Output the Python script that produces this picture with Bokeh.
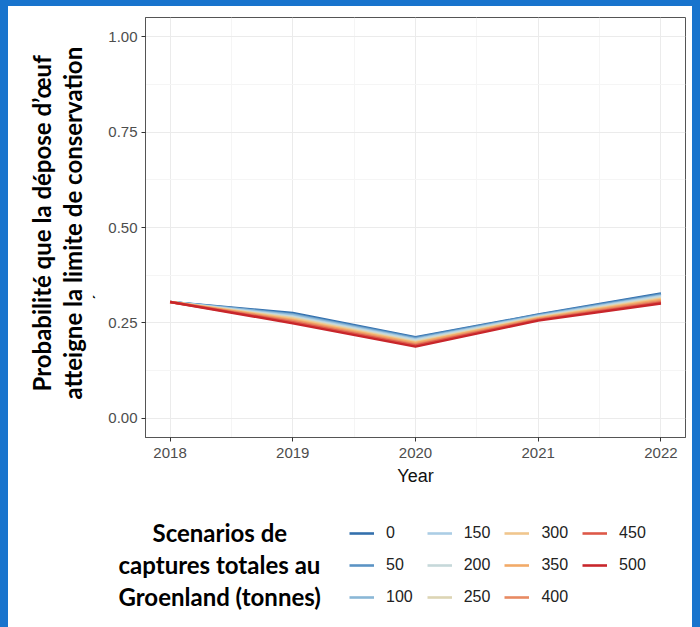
from bokeh.plotting import figure
from bokeh.layouts import column
from bokeh.models import Legend, LegendItem, FixedTicker, Range1d, NumeralTickFormatter, Title
from bokeh.embed import file_html
from bokeh.resources import INLINE

# ---------------- data ----------------
years = [2018, 2019, 2020, 2021, 2022]
scenarios = ["0", "50", "100", "150", "200", "250", "300", "350", "400", "450", "500"]
p_0   = [0.305, 0.276, 0.213, 0.272, 0.327]
p_50  = [0.305, 0.273, 0.211, 0.271, 0.325]
p_100 = [0.305, 0.271, 0.208, 0.269, 0.322]
p_150 = [0.305, 0.268, 0.206, 0.268, 0.320]
p_200 = [0.305, 0.266, 0.204, 0.266, 0.318]
p_250 = [0.305, 0.263, 0.201, 0.265, 0.315]
p_300 = [0.305, 0.261, 0.199, 0.263, 0.313]
p_350 = [0.305, 0.258, 0.197, 0.262, 0.310]
p_400 = [0.305, 0.255, 0.194, 0.260, 0.307]
p_450 = [0.305, 0.252, 0.191, 0.258, 0.304]
p_500 = [0.305, 0.249, 0.188, 0.256, 0.301]
series = [p_0, p_50, p_100, p_150, p_200, p_250, p_300, p_350, p_400, p_450, p_500]
y_ticks = [0.0, 0.25, 0.5, 0.75, 1.0]
y_minor = [0.125, 0.375, 0.625, 0.875]
x_minor = [2018.5, 2019.5, 2020.5, 2021.5]

colors = ["#3470ad", "#5b93c4", "#8ab7d6", "#abcde5", "#c6d8da", "#ddd5b4",
          "#f0c68d", "#f2aa68", "#e88a62", "#dd5848", "#c8262b"]

y_title_1 = "Probabilité que la dépose d\u2019\u0153uf"
y_title_2 = "atteigne la limite de conservation"
y_title_3 = "\u00b4"
x_title = "Year"
legend_title = ["Scenarios de", "captures totales au", "Groenland (tonnes)"]

BLUE = "#1874CD"
TITLE_FONT = "Lato"
TICK_FONT = "Liberation Sans"


def bold_title(text, size, **kw):
    return Title(text=text, text_font=TITLE_FONT, text_font_size=size,
                 text_font_style="bold", text_color="#000000", **kw)


# ---------------- main panel ----------------
p = figure(width=684, height=621, output_backend="svg", toolbar_location=None,
           x_range=Range1d(2017.8, 2022.2), y_range=Range1d(-0.05, 1.05),
           min_border_left=137, min_border_right=7, min_border_top=11,
           min_border_bottom=190)
p.background_fill_color = "white"
p.border_fill_color = "white"
p.outline_line_color = "#555555"
p.outline_line_width = 1

p.xaxis.ticker = FixedTicker(ticks=years, minor_ticks=x_minor)
p.yaxis.ticker = FixedTicker(ticks=y_ticks, minor_ticks=y_minor)
p.yaxis.formatter = NumeralTickFormatter(format="0.00")
for ax in (p.xaxis, p.yaxis):
    ax.axis_line_color = "#555555"
    ax.major_tick_line_color = "#333333"
    ax.major_tick_out = 4
    ax.major_tick_in = 0
    ax.minor_tick_line_color = None
    ax.major_label_text_font = TICK_FONT
    ax.major_label_text_font_size = "15px"
    ax.major_label_text_color = "#4d4d4d"
    ax.major_label_standoff = 4
p.xaxis.major_label_standoff = 6
p.xaxis.axis_label = x_title
p.xaxis.axis_label_text_font = TICK_FONT
p.xaxis.axis_label_text_font_size = "18px"
p.xaxis.axis_label_text_font_style = "normal"
p.xaxis.axis_label_text_color = "#111111"
p.xaxis.axis_label_standoff = 5

p.xgrid.grid_line_color = "#ebebeb"
p.ygrid.grid_line_color = "#ebebeb"
p.xgrid.minor_grid_line_color = "#f5f5f5"
p.ygrid.minor_grid_line_color = "#f5f5f5"

for vals, col in zip(series, colors):
    p.line(years, vals, line_color=col, line_width=2.4)

# y-axis title: stacked titles on the left (first added = closest to axis)
p.add_layout(bold_title(y_title_3, "14px", align="left", offset=137, standoff=0), "left")
p.add_layout(bold_title(y_title_2, "24px", align="left", offset=38, standoff=0), "left")
p.add_layout(bold_title(y_title_1, "24px", align="left", offset=46, standoff=0), "left")

# legend title: spacer + three lines below the x axis
p.add_layout(Title(text=" ", text_font_size="1px", standoff=24), "below")
for txt, off in zip(legend_title, (7, -27, -27)):
    p.add_layout(bold_title(txt, "24px", align="left", offset=off, standoff=1), "below")

# ---------------- legend keys (transparent overlay panel) ----------------
p2 = figure(width=684, height=110, output_backend="svg", toolbar_location=None,
            x_range=Range1d(0, 1), y_range=Range1d(0, 1),
            x_axis_type=None, y_axis_type=None,
            min_border_left=137, min_border_right=7, min_border_top=0, min_border_bottom=0)
p2.grid.visible = False
p2.outline_line_color = None
p2.background_fill_color = None
p2.border_fill_color = None
p2.styles = {"margin-top": "-110px"}

items = []
for name, vals, col in zip(scenarios, series, colors):
    # same series; they fall outside this panel's range and only serve as legend keys
    r = p2.line(years, vals, line_color=col, line_width=2.6)
    items.append(LegendItem(label=name, renderers=[r]))

legend = Legend(items=items, location=(204, 21), orientation="vertical", nrows=3,
                glyph_width=25, glyph_height=18, label_height=18, label_standoff=12,
                spacing=14, padding=0, margin=0,
                label_text_font=TICK_FONT, label_text_font_size="16px",
                label_text_color="#222222", border_line_color=None,
                background_fill_alpha=0)
p2.add_layout(legend, "center")

layout = column(p, p2, spacing=0)
layout.styles = {
    "margin-left": "8px",
    "margin-top": "6px",
    "box-shadow": (f"-8px 0 0 0 {BLUE}, 8px 0 0 0 {BLUE}, 0 -6px 0 0 {BLUE}, "
                   f"-8px -6px 0 0 {BLUE}, 8px -6px 0 0 {BLUE}"),
}

open("out.html", "w").write(file_html(layout, INLINE))
